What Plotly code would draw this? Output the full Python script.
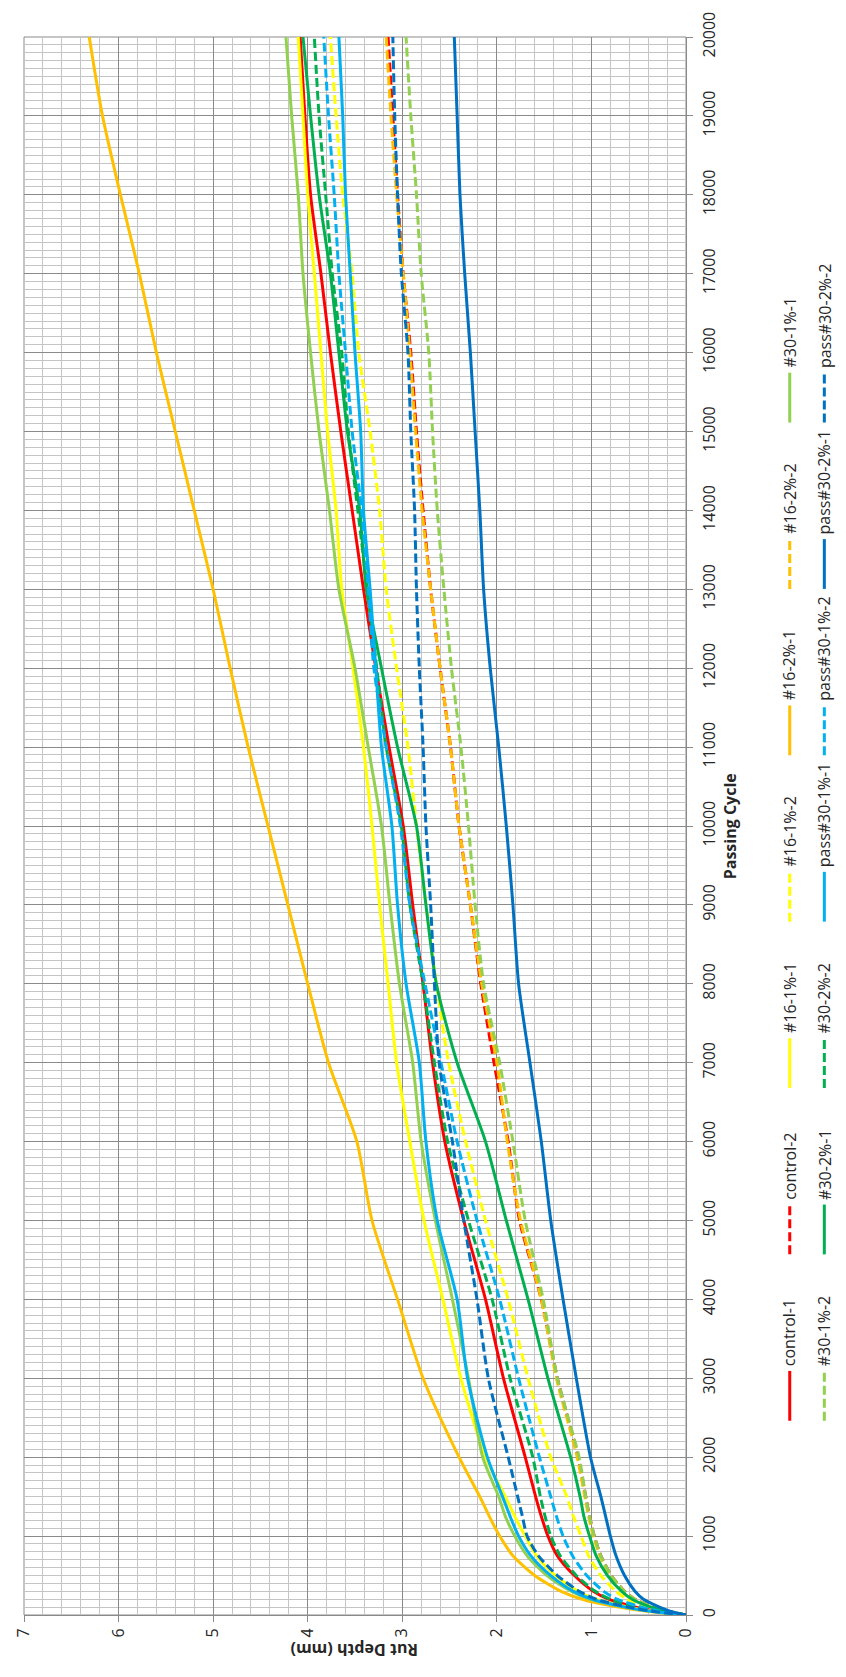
import plotly.graph_objects as go

# Passing cycles at which rut depth was recorded
cycles = [0, 50, 100, 200, 300, 500, 750, 1000, 1250, 1500, 2000, 3000, 4000, 5000, 6000,
          7000, 8000, 9000, 10000, 11000, 12000, 13000, 14000, 15000, 16000, 17000,
          18000, 19000, 20000]

# Rut depth (mm) per specimen
control_1 = [0, 0.32, 0.53, 0.82, 0.98, 1.18, 1.36, 1.46, 1.53, 1.59, 1.70, 1.93, 2.12, 2.35,
             2.55, 2.68, 2.78, 2.89, 2.99, 3.14, 3.28, 3.41, 3.53, 3.65, 3.76, 3.86, 3.97,
             4.03, 4.08]
control_2 = [0, 0.21, 0.35, 0.54, 0.65, 0.79, 0.90, 0.97, 1.02, 1.06, 1.14, 1.36, 1.53, 1.76,
             1.88, 2.03, 2.17, 2.28, 2.40, 2.49, 2.60, 2.70, 2.78, 2.85, 2.91, 2.99, 3.05,
             3.10, 3.15]
s16_1_1 = [0, 0.37, 0.61, 0.95, 1.14, 1.38, 1.58, 1.70, 1.81, 1.91, 2.12, 2.38, 2.57, 2.77,
           2.92, 3.06, 3.15, 3.24, 3.32, 3.41, 3.52, 3.64, 3.70, 3.79, 3.86, 3.93, 4.00,
           4.05, 4.10]
s16_1_2 = [0, 0.24, 0.40, 0.62, 0.74, 0.90, 1.03, 1.11, 1.19, 1.26, 1.43, 1.67, 1.88, 2.12,
           2.33, 2.51, 2.64, 2.75, 2.85, 2.94, 3.06, 3.17, 3.24, 3.34, 3.46, 3.53, 3.63,
           3.70, 3.76]
s16_2_1 = [0, 0.43, 0.71, 1.10, 1.32, 1.60, 1.83, 1.97, 2.08, 2.18, 2.40, 2.78, 3.05, 3.32,
           3.48, 3.78, 4.00, 4.21, 4.42, 4.63, 4.82, 5.00, 5.20, 5.40, 5.60, 5.78, 5.98,
           6.17, 6.31]
s16_2_2 = [0, 0.21, 0.35, 0.55, 0.66, 0.80, 0.91, 0.98, 1.03, 1.07, 1.15, 1.37, 1.53, 1.75,
           1.89, 2.00, 2.16, 2.28, 2.40, 2.49, 2.60, 2.70, 2.79, 2.86, 2.92, 2.99, 3.06,
           3.12, 3.17]
s30_1_1 = [0, 0.40, 0.65, 1.01, 1.21, 1.47, 1.68, 1.81, 1.91, 1.98, 2.15, 2.30, 2.47, 2.65,
           2.80, 2.89, 3.03, 3.13, 3.22, 3.36, 3.50, 3.67, 3.77, 3.88, 3.97, 4.05, 4.10,
           4.17, 4.23]
s30_1_2 = [0, 0.21, 0.35, 0.54, 0.65, 0.79, 0.90, 0.97, 1.02, 1.06, 1.13, 1.36, 1.51, 1.70,
           1.83, 1.97, 2.14, 2.23, 2.30, 2.38, 2.48, 2.56, 2.63, 2.68, 2.72, 2.80, 2.85,
           2.91, 2.96]
s30_2_1 = [0, 0.22, 0.37, 0.57, 0.68, 0.83, 0.95, 1.02, 1.08, 1.12, 1.22, 1.46, 1.67, 1.90,
           2.12, 2.42, 2.64, 2.75, 2.85, 3.05, 3.22, 3.38, 3.45, 3.58, 3.67, 3.76, 3.88,
           3.97, 4.05]
s30_2_2 = [0, 0.31, 0.51, 0.80, 0.96, 1.16, 1.33, 1.43, 1.49, 1.54, 1.62, 1.86, 2.05, 2.30,
           2.52, 2.66, 2.78, 2.92, 3.01, 3.17, 3.27, 3.37, 3.47, 3.57, 3.64, 3.74, 3.81,
           3.88, 3.93]
pass30_1_1 = [0, 0.39, 0.64, 0.99, 1.19, 1.43, 1.64, 1.77, 1.86, 1.94, 2.10, 2.31, 2.42, 2.63,
              2.75, 2.82, 2.96, 3.05, 3.11, 3.22, 3.28, 3.34, 3.41, 3.44, 3.50, 3.55, 3.60,
              3.63, 3.67]
pass30_1_2 = [0, 0.29, 0.47, 0.73, 0.87, 1.05, 1.20, 1.30, 1.37, 1.43, 1.55, 1.77, 1.97, 2.21,
              2.42, 2.59, 2.76, 2.92, 3.02, 3.17, 3.30, 3.36, 3.43, 3.53, 3.60, 3.67, 3.72,
              3.78, 3.83]
pass30_2_1 = [0, 0.17, 0.28, 0.45, 0.54, 0.65, 0.74, 0.80, 0.85, 0.90, 1.01, 1.16, 1.30, 1.43,
              1.53, 1.65, 1.77, 1.83, 1.90, 1.98, 2.07, 2.14, 2.18, 2.23, 2.28, 2.34, 2.39,
              2.42, 2.45]
pass30_2_2 = [0, 0.37, 0.61, 0.95, 1.13, 1.36, 1.56, 1.68, 1.73, 1.78, 1.88, 2.09, 2.21, 2.35,
              2.47, 2.61, 2.66, 2.70, 2.75, 2.78, 2.82, 2.85, 2.87, 2.91, 2.94, 3.01, 3.05,
              3.08, 3.10]

series_names = ["control-1", "control-2", "#16-1%-1", "#16-1%-2", "#16-2%-1", "#16-2%-2",
                "#30-1%-1", "#30-1%-2", "#30-2%-1", "#30-2%-2", "pass#30-1%-1",
                "pass#30-1%-2", "pass#30-2%-1", "pass#30-2%-2"]
series_values = [control_1, control_2, s16_1_1, s16_1_2, s16_2_1, s16_2_2, s30_1_1, s30_1_2,
                 s30_2_1, s30_2_2, pass30_1_1, pass30_1_2, pass30_2_1, pass30_2_2]

rut_ticks = [0, 1, 2, 3, 4, 5, 6, 7]
cycle_ticks = list(range(0, 20001, 1000))

RED, YELLOW, ORANGE = "#FF0000", "#FFFF00", "#FFC000"
LGREEN, GREEN, LBLUE, DBLUE = "#92D050", "#00B050", "#00B0F0", "#0070C0"
colors = [RED, RED, YELLOW, YELLOW, ORANGE, ORANGE, LGREEN, LGREEN, GREEN, GREEN,
          LBLUE, LBLUE, DBLUE, DBLUE]
DASH = "9px,4px"
dashes = ["solid", DASH] * 7

FONT = "Open Sans"
TXT = "#262626"

# Figure geometry (pixels) -- the chart is laid out turned a quarter turn
W, H = 846, 1677
L, R, T, B = 16, 160, 31, 62
pw, ph = W - L - R, H - T - B


def px_to_paper(xp, yp):
    return (xp - L) / pw, (H - B - yp) / ph


fig = go.Figure()
for name, vals, col, dash in zip(series_names, series_values, colors, dashes):
    fig.add_trace(go.Scatter(
        x=vals, y=cycles, mode="lines", name=name,
        line=dict(color=col, width=3, dash=dash, shape="spline", smoothing=0.7),
        showlegend=False, hoverinfo="skip"))

MAJ, MIN = "#8A8A8A", "#C4C4C4"
fig.update_xaxes(
    range=[7, 0], tickvals=rut_ticks, ticktext=[str(v) for v in rut_ticks],
    tickangle=-90, ticks="outside", ticklen=6, tickcolor=MAJ,
    showgrid=True, gridcolor=MAJ, gridwidth=1,
    minor=dict(dtick=0.2, showgrid=True, gridcolor=MIN, gridwidth=1),
    showline=True, linecolor=MAJ, linewidth=1, mirror=False,
    zeroline=False, tickfont=dict(family=FONT, size=16, color=TXT))
fig.update_yaxes(
    range=[0, 20000], tickvals=cycle_ticks, ticktext=[str(v) for v in cycle_ticks],
    side="right", tickangle=-90, ticks="outside", ticklen=6, tickcolor=MAJ,
    ticklabelstandoff=3,
    showgrid=True, gridcolor=MAJ, gridwidth=1,
    minor=dict(dtick=100, showgrid=True, gridcolor=MIN, gridwidth=1),
    showline=True, linecolor=MAJ, linewidth=1, mirror=False,
    zeroline=False, tickfont=dict(family=FONT, size=16, color=TXT))

shapes, annotations = [], []
# border on the far edges of the plot area
shapes.append(dict(type="rect", xref="paper", yref="paper", x0=0, x1=1, y0=0, y1=1,
                   line=dict(color=MAJ, width=1), layer="below"))

# axis titles
annotations.append(dict(text="<b>Rut Depth (mm)</b>", x=0.5, y=px_to_paper(0, 1663)[1],
                        xref="paper", yref="paper", showarrow=False, textangle=180,
                        font=dict(family=FONT, size=16, color=TXT)))
annotations.append(dict(text="<b>Passing Cycle</b>", x=px_to_paper(744, 0)[0], y=0.5,
                        xref="paper", yref="paper", showarrow=False, textangle=-90,
                        font=dict(family=FONT, size=16, color=TXT)))

# legend: two columns of seven entries, running upward
col_x = [791, 826]
row_y0, row_step, sample_len = 1420, 167, 50
for i, (name, col, dash) in enumerate(zip(series_names, colors, dashes)):
    r, k = divmod(i, 7)
    xp = col_x[r]
    y_start = row_y0 - row_step * k
    x0, y0 = px_to_paper(xp, y_start)
    _, y1 = px_to_paper(xp, y_start - sample_len)
    shapes.append(dict(type="line", xref="paper", yref="paper", x0=x0, x1=x0, y0=y0, y1=y1,
                       line=dict(color=col, width=3, dash=dash)))
    _, yt = px_to_paper(xp, y_start - sample_len - 3)
    annotations.append(dict(text=name, x=x0, y=yt, xref="paper", yref="paper",
                            showarrow=False, textangle=-90, xanchor="center",
                            yanchor="bottom",
                            font=dict(family=FONT, size=16, color=TXT)))

fig.update_layout(
    width=W, height=H, margin=dict(l=L, r=R, t=T, b=B),
    plot_bgcolor="white", paper_bgcolor="white",
    shapes=shapes, annotations=annotations, showlegend=False)

fig.write_html("out.html")
